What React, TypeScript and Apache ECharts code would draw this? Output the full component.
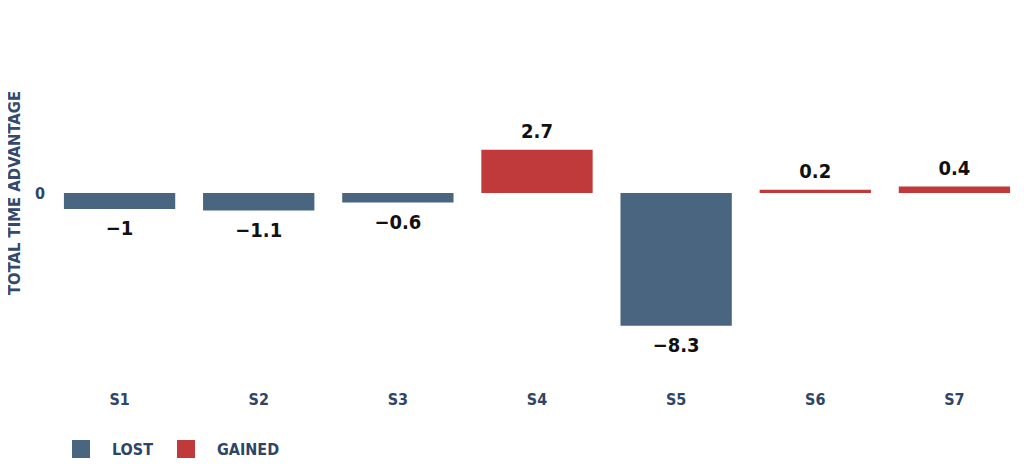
import React, { useEffect, useRef } from "react";
import * as echarts from "echarts";

const categories = ["S1", "S2", "S3", "S4", "S5", "S6", "S7"];
const values = [-1, -1.1, -0.6, 2.7, -8.3, 0.2, 0.4];
const lostValues = values.map((v) => (v < 0 ? v : null));
const gainedValues = values.map((v) => (v >= 0 ? v : null));

const FONT = "'DejaVu Sans Condensed', 'Liberation Sans Narrow', 'Roboto Condensed', sans-serif";
const BLUE = "#4a6580";
const RED = "#c0393b";
const NAVY = "#2e4566";

export default function App() {
  const ref = useRef<HTMLDivElement>(null);
  useEffect(() => {
    if (!ref.current) return;
    const chart = echarts.init(ref.current, undefined, { renderer: "svg" });
    const valueLabel = {
      show: true,
      fontFamily: FONT,
      fontWeight: "bold" as const,
      fontSize: 20,
      color: "#111",
      distance: 9,
      formatter: (p: any) => (p.value < 0 ? "\u2212" + Math.abs(p.value) : String(p.value)),
    };
    chart.setOption({
      animation: false,
      backgroundColor: "#fff",
      grid: { left: 50, right: 0, top: 17, bottom: 104, containLabel: false, outerBoundsMode: "none" },
      legend: {
        left: 72,
        top: 440,
        padding: 0,
        icon: "rect",
        itemWidth: 18,
        itemHeight: 18,
        itemGap: 24,
        textStyle: { fontFamily: FONT, fontWeight: "bold", fontSize: 16, color: NAVY, padding: [0, 0, 0, 17] },
        data: ["LOST", "GAINED"],
      },
      xAxis: {
        type: "category",
        data: categories,
        axisLine: { show: false },
        axisTick: { show: false },
        position: "bottom",
        axisLabel: {
          fontFamily: FONT,
          fontWeight: "bold",
          fontSize: 16,
          color: NAVY,
          margin: 22,
        },
      },
      yAxis: {
        type: "value",
        min: -11,
        max: 11,
        interval: 1,
        splitLine: { show: false },
        axisLine: { show: false },
        axisTick: { show: false },
        axisLabel: {
          fontFamily: FONT,
          fontWeight: "bold",
          fontSize: 16,
          color: NAVY,
          margin: 5,
          formatter: (v: number) => (v === 0 ? "0" : ""),
        },
        name: "TOTAL TIME ADVANTAGE",
        nameLocation: "middle",
        nameRotate: 90,
        nameGap: 27,
        nameTextStyle: {
          fontFamily: FONT,
          fontWeight: "bold",
          fontSize: 16.5,
          color: "#34496b",
        },
      },
      series: [
        {
          name: "LOST",
          type: "bar",
          stack: "t",
          data: lostValues,
          barCategoryGap: "20%",
          itemStyle: { color: BLUE },
          label: { ...valueLabel, position: "bottom" },
        },
        {
          name: "GAINED",
          type: "bar",
          stack: "t",
          data: gainedValues,
          barCategoryGap: "20%",
          itemStyle: { color: RED },
          label: { ...valueLabel, position: "top" },
        },
      ],
    });
    return () => chart.dispose();
  }, []);
  return <div ref={ref} style={{ width: 1024, height: 473, marginLeft: -8, marginTop: -8 }} />;
}
